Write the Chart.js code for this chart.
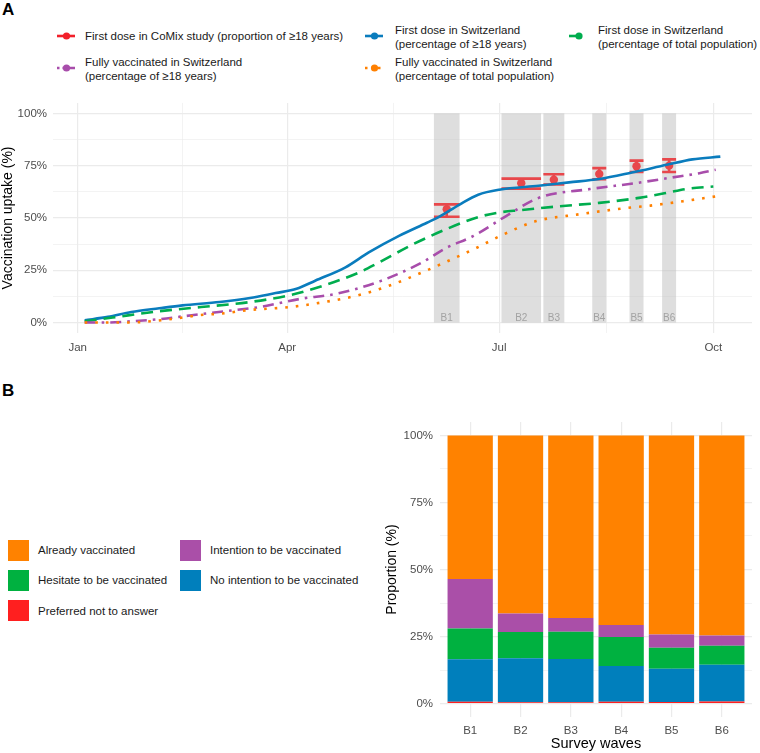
<!DOCTYPE html>
<html>
<head>
<meta charset="utf-8">
<script src="https://cdn.jsdelivr.net/npm/chart.js@4/dist/chart.umd.min.js"></script>
<style>
  body { margin: 0; width: 760px; height: 753px; position: relative; overflow: hidden; background: #fff;
         font-family: "Liberation Sans", Arial, sans-serif; color: #1a1a1a; }
  .tag { position: absolute; left: 2px; font-weight: bold; font-size: 17px; color: #000; }
  .wrap { position: absolute; }
  #wrapA { left: 0; top: 90px; width: 760px; height: 270px; }
  #wrapB { left: 380px; top: 405px; width: 380px; height: 348px; }
  .key { position: absolute; }
  .txt { position: absolute; font-size: 11.5px; line-height: 14px; white-space: nowrap; }
  .sq { position: absolute; width: 21px; height: 21px; }
</style>
</head>
<body>
<div class="tag" style="top:0px">A</div>
<div class="tag" style="top:381px">B</div>

<!-- legend panel A -->
<svg class="key" style="left:57px;top:30px" width="18" height="12"><line x1="0" y1="6" x2="18" y2="6" stroke="#F2202A" stroke-width="2.6"/><circle cx="9.5" cy="6" r="3.6" fill="#F2202A"/></svg>
<div class="txt" style="left:85px;top:29px">First dose in CoMix study (proportion of ≥18 years)</div>
<svg class="key" style="left:365px;top:30px" width="18" height="12"><line x1="0" y1="6" x2="18" y2="6" stroke="#0A7CBD" stroke-width="2.6"/><circle cx="9.5" cy="6" r="3.6" fill="#0A7CBD"/></svg>
<div class="txt" style="left:395px;top:23px">First dose in Switzerland<br>(percentage of ≥18 years)</div>
<svg class="key" style="left:569px;top:30px" width="18" height="12"><line x1="0" y1="6" x2="18" y2="6" stroke="#00AD4E" stroke-width="2.6" stroke-dasharray="11 7"/><circle cx="10" cy="6" r="3.6" fill="#00AD4E"/></svg>
<div class="txt" style="left:598px;top:23px">First dose in Switzerland<br>(percentage of total population)</div>
<svg class="key" style="left:57px;top:62px" width="18" height="12"><line x1="0" y1="6" x2="18" y2="6" stroke="#A84DAB" stroke-width="2.6" stroke-dasharray="2.5 3 13 5"/><circle cx="9.5" cy="6" r="3.6" fill="#A84DAB"/></svg>
<div class="txt" style="left:85px;top:55px">Fully vaccinated in Switzerland<br>(percentage of ≥18 years)</div>
<svg class="key" style="left:365px;top:62px" width="18" height="12"><line x1="0" y1="6" x2="18" y2="6" stroke="#FF8000" stroke-width="2.6" stroke-dasharray="2.5 4"/><circle cx="9.5" cy="6" r="3.6" fill="#FF8000"/></svg>
<div class="txt" style="left:395px;top:55px">Fully vaccinated in Switzerland<br>(percentage of total population)</div>

<!-- legend panel B -->
<div class="sq" style="left:8px;top:540px;background:#FF8200"></div>
<div class="txt" style="left:38px;top:543px">Already vaccinated</div>
<div class="sq" style="left:180px;top:540px;background:#AA4FA8"></div>
<div class="txt" style="left:210px;top:543px">Intention to be vaccinated</div>
<div class="sq" style="left:8px;top:570px;background:#00B140"></div>
<div class="txt" style="left:38px;top:573px">Hesitate to be vaccinated</div>
<div class="sq" style="left:180px;top:570px;background:#007FBC"></div>
<div class="txt" style="left:210px;top:573px">No intention to be vaccinated</div>
<div class="sq" style="left:8px;top:600px;background:#FF1F1F"></div>
<div class="txt" style="left:38px;top:604px">Preferred not to answer</div>

<div class="wrap" id="wrapA"><canvas id="chartA"></canvas></div>
<div class="wrap" id="wrapB"><canvas id="chartB"></canvas></div>

<script>
Chart.defaults.font.family = '"Liberation Sans", Arial, sans-serif';
Chart.defaults.color = '#4D4D4D';

// ---- panel A data (x = days since 1 Jan 2021) ----
const monthDays = [0, 90, 181, 273];
const monthNames = ['Jan', 'Apr', 'Jul', 'Oct'];
const minorDays = [45, 135.5, 227];
const pctMajor = [0, 25, 50, 75, 100];
const pctMinor = [12.5, 37.5, 62.5, 87.5];

const waveNames = ['B1', 'B2', 'B3', 'B4', 'B5', 'B6'];
const waveStart = [153, 182, 200, 221, 237, 251];
const waveEnd = [164, 199, 209, 227, 243, 257];
const comixPct = [54.2, 66.6, 68.3, 71.0, 74.7, 75.0];
const comixLow = [50.6, 64.0, 66.0, 68.5, 72.0, 72.0];
const comixHigh = [56.5, 68.8, 70.9, 73.8, 77.4, 78.0];

const firstAdultDays = [3, 13, 23, 35, 45, 61, 74, 85, 94, 102, 115, 125, 138, 150, 155, 164, 172, 181, 198, 211, 224, 238, 253, 264, 276];
const firstAdultPct = [1.1, 2.7, 5.0, 6.8, 8.2, 9.8, 11.7, 14.1, 16.1, 20.0, 26.4, 33.5, 41.4, 47.7, 50.4, 56.4, 61.1, 63.5, 65.4, 67.0, 68.6, 71.7, 75.4, 78.0, 79.3];

const firstTotalDays = [3, 15, 35, 53, 74, 92, 102, 121, 129, 144, 158, 172, 181, 190, 207, 224, 241, 253, 261, 273];
const firstTotalPct = [0.6, 2.4, 5.4, 7.4, 9.8, 13.3, 16.4, 24.0, 28.5, 37.4, 44.5, 50.4, 52.6, 53.7, 55.6, 57.2, 59.6, 62.0, 63.8, 65.0];

const fullAdultDays = [3, 12, 23, 35, 49, 64, 78, 96, 111, 130, 148, 158, 170, 184, 198, 220, 240, 255, 267, 274];
const fullAdultPct = [0, 0, 0.6, 1.6, 3.5, 5.5, 7.4, 11.4, 13.7, 19.8, 28.8, 35.5, 41.4, 50.9, 59.6, 63.8, 66.7, 69.3, 71.4, 73.0];

const fullTotalDays = [3, 20, 28, 42, 52, 62, 72, 91, 106, 120, 134, 148, 157, 170, 183, 197, 215, 236, 246, 260, 274];
const fullTotalPct = [0, 0, 0.3, 1.9, 3.5, 4.3, 5.8, 7.4, 9.8, 12.9, 17.7, 24.0, 28.4, 35.0, 42.2, 48.5, 51.7, 54.8, 55.9, 58.0, 60.3];

// ---- panel B data (stack segments, %) ----
const waveIdx = [1, 2, 3, 4, 5, 6];
const notAnswer = [0.7, 0.5, 0.5, 0.7, 0.6, 0.8];
const noIntention = [15.8, 16.4, 16.1, 13.3, 12.4, 13.7];
const hesitate = [11.5, 9.8, 10.2, 10.8, 7.8, 7.1];
const intention = [18.5, 6.9, 5.1, 4.5, 5.0, 3.8];
const vaccinated = [53.5, 66.4, 68.1, 70.7, 74.2, 74.6];

const pts = (xs, ys) => xs.map((x, i) => ({ x: x, y: ys[i] }));
const pctLabel = v => pctMajor.includes(v) ? v + '%' : '';
const gridW = c => (c.tick && pctMinor.concat(minorDays).includes(c.tick.value)) ? 0.6 : 1.2;

// grey survey windows, wave labels and the CoMix error bars
const wavesPlugin = {
  id: 'waves',
  beforeDatasetsDraw(chart) {
    const ctx = chart.ctx, x = chart.scales.x, y = chart.scales.y;
    ctx.save();
    waveStart.forEach((s, i) => {
      const x0 = x.getPixelForValue(s), x1 = x.getPixelForValue(waveEnd[i]);
      const yt = y.getPixelForValue(100), yb = y.getPixelForValue(0);
      ctx.fillStyle = 'rgba(190,190,190,0.5)';
      ctx.fillRect(x0, yt, x1 - x0, yb - yt);
      ctx.fillStyle = '#a3a3a3';
      ctx.font = '10px "Liberation Sans", Arial, sans-serif';
      ctx.textAlign = 'center';
      ctx.textBaseline = 'middle';
      ctx.fillText(waveNames[i], (x0 + x1) / 2, y.getPixelForValue(1.9));
    });
    ctx.strokeStyle = '#E8474B';
    ctx.lineWidth = 2.6;
    waveStart.forEach((s, i) => {
      const x0 = x.getPixelForValue(s), x1 = x.getPixelForValue(waveEnd[i]);
      const xm = x.getPixelForValue((s + waveEnd[i]) / 2);
      const lo = y.getPixelForValue(comixLow[i]), hi = y.getPixelForValue(comixHigh[i]);
      ctx.beginPath();
      ctx.moveTo(xm, lo); ctx.lineTo(xm, hi);
      ctx.moveTo(x0, lo); ctx.lineTo(x1, lo);
      ctx.moveTo(x0, hi); ctx.lineTo(x1, hi);
      ctx.stroke();
    });
    ctx.restore();
  }
};

const lineStyle = (label, color, data, dash) => ({
  label: label, data: data, borderColor: color, borderWidth: 2.6, borderDash: dash,
  pointRadius: 0, fill: false, cubicInterpolationMode: 'monotone', order: 1
});

new Chart(document.getElementById('chartA'), {
  type: 'line',
  data: {
    datasets: [
      {
        label: 'First dose in CoMix study (proportion of ≥18 years)',
        data: pts(waveStart.map((s, i) => (s + waveEnd[i]) / 2), comixPct),
        showLine: false, pointRadius: 4.2, pointBackgroundColor: '#E8474B', pointBorderWidth: 0, order: 5
      },
      lineStyle('Fully vaccinated in Switzerland (percentage of total population)', '#FF8000', pts(fullTotalDays, fullTotalPct), [2.6, 8]),
      lineStyle('Fully vaccinated in Switzerland (percentage of ≥18 years)', '#A84DAB', pts(fullAdultDays, fullAdultPct), [11, 6, 2.6, 6]),
      lineStyle('First dose in Switzerland (percentage of total population)', '#00AD4E', pts(firstTotalDays, firstTotalPct), [12, 7]),
      lineStyle('First dose in Switzerland (percentage of ≥18 years)', '#0A7CBD', pts(firstAdultDays, firstAdultPct), [])
    ]
  },
  options: {
    responsive: true, maintainAspectRatio: false, animation: false,
    layout: { padding: { top: 11.7, right: 8, left: 0, bottom: 0 } },
    plugins: { legend: { display: false }, tooltip: { enabled: false } },
    scales: {
      x: {
        type: 'linear', min: -10.6, max: 289.6,
        afterBuildTicks: s => { s.ticks = monthDays.concat(minorDays).sort((a, b) => a - b).map(v => ({ value: v })); },
        afterFit: s => { s.height = 27; },
        ticks: { autoSkip: false, maxRotation: 0, padding: 8, font: { size: 11.5 },
                 callback: v => monthDays.includes(v) ? monthNames[monthDays.indexOf(v)] : '' },
        grid: { color: '#EBEBEB', lineWidth: gridW, drawTicks: false },
        border: { display: false }
      },
      y: {
        min: -5, max: 105,
        afterBuildTicks: s => { s.ticks = pctMajor.concat(pctMinor).sort((a, b) => a - b).map(v => ({ value: v })); },
        afterFit: s => { s.width = 53; },
        ticks: { autoSkip: false, padding: 6, font: { size: 11.5 }, callback: pctLabel },
        grid: { color: '#EBEBEB', lineWidth: gridW, drawTicks: false },
        border: { display: false },
        title: { display: true, text: 'Vaccination uptake (%)', color: '#000', font: { size: 14 }, padding: 0 }
      }
    }
  },
  plugins: [wavesPlugin]
});

const barSet = (label, color, vals) => ({
  label: label, data: pts(waveIdx, vals), backgroundColor: color, borderWidth: 0,
  barPercentage: 0.9, categoryPercentage: 1.0
});

new Chart(document.getElementById('chartB'), {
  type: 'bar',
  data: {
    datasets: [
      barSet('Preferred not to answer', '#FF1F1F', notAnswer),
      barSet('No intention to be vaccinated', '#007FBC', noIntention),
      barSet('Hesitate to be vaccinated', '#00B140', hesitate),
      barSet('Intention to be vaccinated', '#AA4FA8', intention),
      barSet('Already vaccinated', '#FF8200', vaccinated)
    ]
  },
  options: {
    responsive: true, maintainAspectRatio: false, animation: false,
    layout: { padding: { top: 17, right: 8, left: 3.6, bottom: 0 } },
    plugins: { legend: { display: false }, tooltip: { enabled: false } },
    scales: {
      x: {
        type: 'linear', stacked: true, min: 0.4, max: 6.6, offset: false,
        afterBuildTicks: s => { s.ticks = waveIdx.map(v => ({ value: v })); },
        afterFit: s => { s.height = 36; },
        ticks: { autoSkip: false, maxRotation: 0, padding: 7, font: { size: 11.5 },
                 callback: v => waveNames[v - 1] },
        grid: { color: '#EBEBEB', lineWidth: 1.2, drawTicks: false, offset: false },
        border: { display: false },
        title: { display: true, text: 'Survey waves', color: '#000', font: { size: 14.5 }, padding: 0 }
      },
      y: {
        stacked: true, min: -5, max: 105,
        afterBuildTicks: s => { s.ticks = pctMajor.concat(pctMinor).sort((a, b) => a - b).map(v => ({ value: v })); },
        afterFit: s => { s.width = 56.4; },
        ticks: { autoSkip: false, padding: 7, font: { size: 11.5 }, callback: pctLabel },
        grid: { color: '#EBEBEB', lineWidth: gridW, drawTicks: false },
        border: { display: false },
        title: { display: true, text: 'Proportion (%)', color: '#000', font: { size: 14 }, padding: 0 }
      }
    }
  }
});
</script>
</body>
</html>
